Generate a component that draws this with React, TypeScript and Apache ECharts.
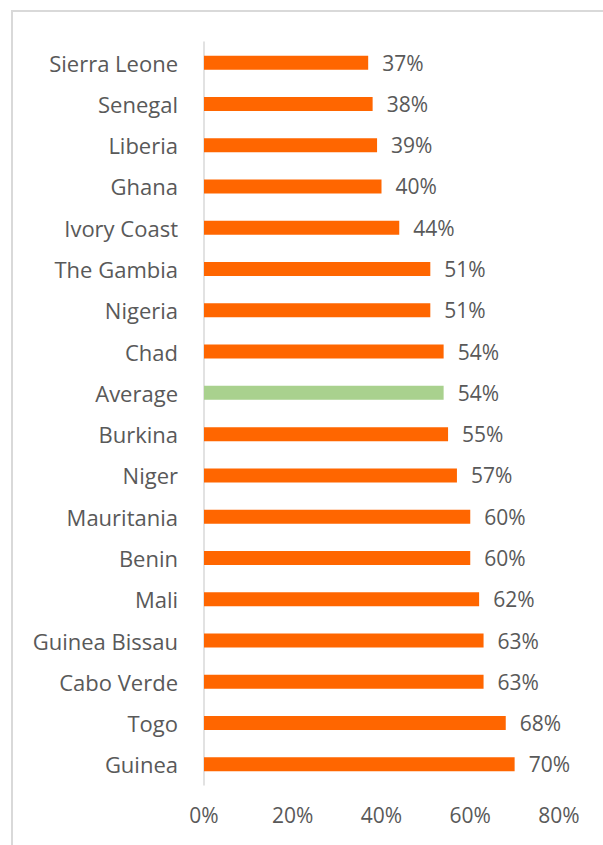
import React, { useEffect, useRef } from "react";
import * as echarts from "echarts";

const categories = [
  "Sierra Leone", "Senegal", "Liberia", "Ghana", "Ivory Coast", "The Gambia",
  "Nigeria", "Chad", "Average", "Burkina", "Niger", "Mauritania", "Benin",
  "Mali", "Guinea Bissau", "Cabo Verde", "Togo", "Guinea",
];
const values = [37, 38, 39, 40, 44, 51, 51, 54, 54, 55, 57, 60, 60, 62, 63, 63, 68, 70];
const highlightCategory = "Average";

const FONT = "Open Sans";
const TEXT = "#595959";

export default function App() {
  const ref = useRef<HTMLDivElement>(null);
  useEffect(() => {
    if (!ref.current) return;
    const chart = echarts.init(ref.current, null, { renderer: "svg" });
    chart.setOption({
      animation: false,
      backgroundColor: "#ffffff",
      graphic: [
        {
          type: "rect",
          shape: { x: 12, y: 11, width: 700, height: 900 },
          style: { fill: "none", stroke: "#d9d9d9", lineWidth: 2 },
          silent: true,
        },
      ],
      grid: { left: 204, right: 44, top: 42, bottom: 60, containLabel: false },
      xAxis: {
        type: "value",
        min: 0,
        max: 80,
        interval: 20,
        axisLine: { show: false },
        axisTick: { show: false },
        splitLine: { show: false },
        axisLabel: {
          formatter: "{value}%",
          color: TEXT,
          fontFamily: FONT,
          fontSize: 21,
          margin: 19,
        },
      },
      yAxis: {
        type: "category",
        inverse: true,
        data: categories,
        axisLine: { show: true, lineStyle: { color: "#d9d9d9", width: 1.5 } },
        axisTick: { show: false },
        axisLabel: {
          color: TEXT,
          fontFamily: FONT,
          fontSize: 22,
          margin: 26,
        },
      },
      series: [
        {
          type: "bar",
          barWidth: 14,
          data: values.map((v, i) => ({
            value: v,
            itemStyle: {
              color: categories[i] === highlightCategory ? "#A9D18E" : "#FF6600",
            },
          })),
          label: {
            show: true,
            position: "right",
            distance: 14,
            formatter: "{c}%",
            color: TEXT,
            fontFamily: FONT,
            fontSize: 21,
          },
        },
      ],
    });
    return () => chart.dispose();
  }, []);
  return (
    <div
      ref={ref}
      style={{ position: "fixed", left: 0, top: 0, width: 603, height: 845 }}
    />
  );
}
